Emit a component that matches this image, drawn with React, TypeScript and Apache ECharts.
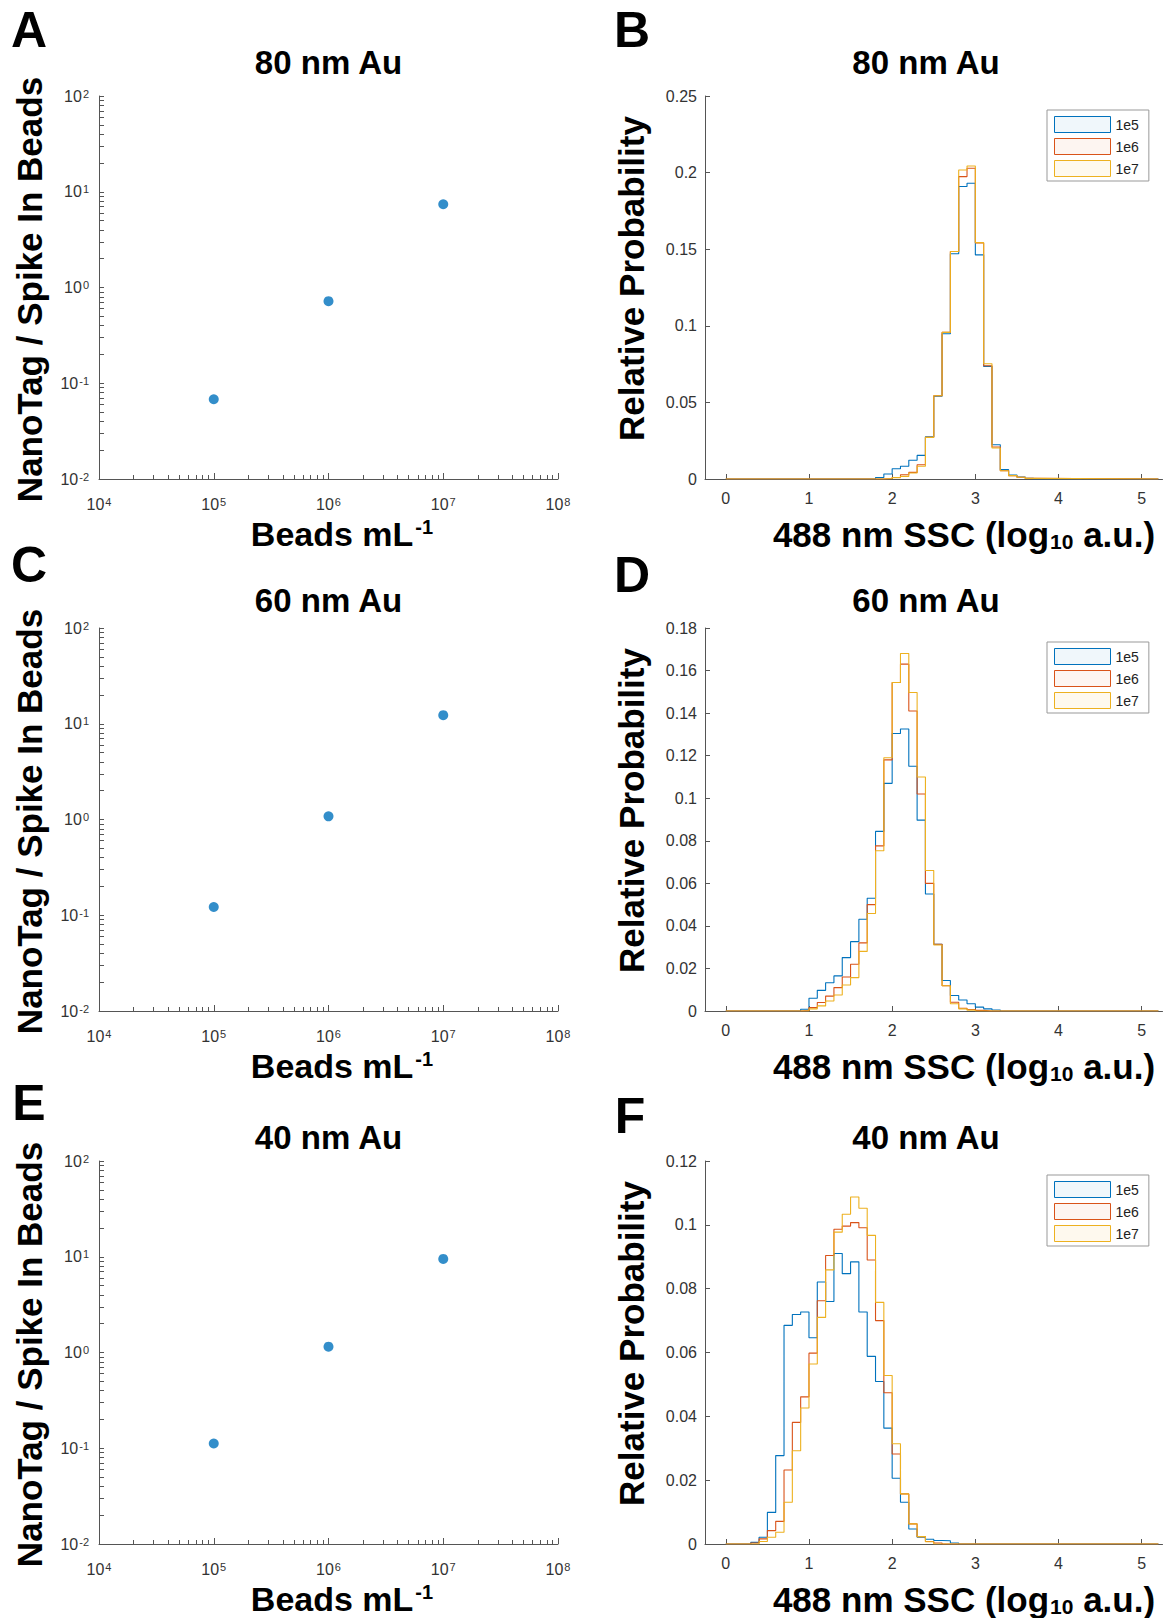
import React, { useEffect, useRef } from 'react';
import * as echarts from 'echarts';

const FONT = '"Liberation Sans", Arial, Helvetica, sans-serif';

// ---------- Scatter panels (A, C, E) ----------
const beadConc = [1e5, 1e6, 1e7];
const ratio80 = [0.068, 0.72, 7.4];
const ratio60 = [0.122, 1.08, 12.3];
const ratio40 = [0.112, 1.15, 9.5];
const xExponents = [4, 5, 6, 7, 8];
const yExponents = [-2, -1, 0, 1, 2];

// ---------- Histogram panels (B, D, F) ----------
const seriesNames = ['1e5', '1e6', '1e7'];
const binWidth = 0.1;
const histRange = [0, 5.2];
const xTickValues = [0, 1, 2, 3, 4, 5];

// 80 nm Au: bins starting at 1.8
const h80Start = 1.8;
const h80_1e5 = [0.001, 0.0033, 0.0067, 0.0083, 0.0122, 0.0154, 0.0275, 0.054, 0.0948, 0.147, 0.1909, 0.193, 0.1463, 0.0735, 0.0224, 0.0061, 0.0026, 0.0013, 0.0005];
const h80_1e6 = [0, 0.0003, 0.001, 0.0028, 0.0043, 0.0093, 0.0272, 0.0543, 0.0957, 0.1485, 0.1974, 0.2028, 0.154, 0.0739, 0.0209, 0.0054, 0.0022, 0.0011, 0.0004];
const h80_1e7 = [0, 0.0003, 0.0009, 0.0017, 0.0039, 0.0083, 0.0272, 0.0543, 0.0957, 0.1485, 0.2017, 0.2043, 0.1543, 0.0752, 0.0202, 0.0054, 0.0022, 0.0011, 0.0004];

// 60 nm Au: bins starting at 0.9
const h60Start = 0.9;
const h60_1e5 = [0.0008, 0.006, 0.0097, 0.0133, 0.0165, 0.0251, 0.0326, 0.0431, 0.053, 0.0844, 0.107, 0.1304, 0.1325, 0.115, 0.0897, 0.055, 0.0314, 0.0143, 0.0073, 0.0052, 0.0034, 0.0018, 0.001, 0.0005];
const h60_1e6 = [0.0002, 0.0016, 0.004, 0.007, 0.011, 0.016, 0.022, 0.032, 0.05, 0.0776, 0.118, 0.1544, 0.163, 0.141, 0.102, 0.06, 0.0314, 0.0119, 0.0041, 0.0013, 0.0007, 0.0003, 0, 0];
const h60_1e7 = [0, 0.001, 0.0024, 0.0047, 0.0075, 0.0122, 0.0157, 0.028, 0.0458, 0.0753, 0.119, 0.1544, 0.168, 0.1497, 0.11, 0.066, 0.031, 0.0119, 0.0034, 0.001, 0.0004, 0, 0, 0];

// 40 nm Au: bins starting at 0.3
const h40Start = 0.3;
const h40_1e5 = [0.0005, 0.0021, 0.0099, 0.0277, 0.0685, 0.0719, 0.0727, 0.0646, 0.0821, 0.076, 0.091, 0.0847, 0.0884, 0.0727, 0.0588, 0.0509, 0.0363, 0.0206, 0.0131, 0.0047, 0.0021, 0.0015, 0.0011, 0.001, 0.0003];
const h40_1e6 = [0.0003, 0.0016, 0.0042, 0.0071, 0.0232, 0.0381, 0.0461, 0.0598, 0.0762, 0.0904, 0.0986, 0.0996, 0.1007, 0.0991, 0.089, 0.07, 0.0474, 0.0282, 0.0157, 0.0063, 0.0023, 0.0008, 0.0003, 0, 0];
const h40_1e7 = [0, 0.0008, 0.0021, 0.0037, 0.0131, 0.0292, 0.0426, 0.0564, 0.071, 0.0859, 0.0977, 0.1033, 0.1087, 0.1052, 0.0967, 0.0757, 0.0528, 0.0314, 0.0157, 0.0063, 0.0023, 0.0007, 0, 0, 0];

const COLORS = ['#0072BD', '#D95319', '#EDB120'];
const LEGEND_FILLS = ['rgba(0,114,189,0.06)', 'rgba(217,83,25,0.06)', 'rgba(237,177,32,0.08)'];
const AXIS_COLOR = '#555555';
const LABEL_COLOR = '#333333';

// ---------- layout ----------
const ROW_TOPS = [96, 628, 1161];
const PLOT_H = 383;
const LEFT_X = 99;
const LEFT_W = 459;
const RIGHT_X = 705;
const RIGHT_W = 457.5;

function stairs(start: number, values: number[]) {
  const pts: number[][] = [[histRange[0], 0]];
  values.forEach((v, i) => pts.push([+(start + i * binWidth).toFixed(2), v]));
  pts.push([+(start + values.length * binWidth).toFixed(2), 0]);
  pts.push([histRange[1], 0]);
  return pts;
}

// tick positions (in log10 units) for a log-scaled axis
const logTicks = (lo: number, hi: number, withMajor: boolean) => {
  const out: number[] = [];
  for (let e = lo; e < hi; e++) {
    if (withMajor) out.push(e);
    for (let k = 2; k <= 9; k++) out.push(e + Math.log10(k));
  }
  if (withMajor) out.push(hi);
  return out;
};

const tickRich = {
  b: { fontSize: 16, fontFamily: FONT, color: LABEL_COLOR, lineHeight: 16, verticalAlign: 'bottom' },
  s: { fontSize: 11, fontFamily: FONT, color: LABEL_COLOR, lineHeight: 11, verticalAlign: 'top', padding: [0, 0, 9, 1] },
};

const axisLine = { show: true, onZero: false, lineStyle: { color: AXIS_COLOR, width: 1 } };

export default function App() {
  const ref = useRef<HTMLDivElement>(null);

  useEffect(() => {
    if (!ref.current) return;
    const chart = echarts.init(ref.current, undefined, { renderer: 'svg' });

    const scatterSets = [ratio80, ratio60, ratio40];
    const histSets = [
      { start: h80Start, vals: [h80_1e5, h80_1e6, h80_1e7], max: 0.25, interval: 0.05 },
      { start: h60Start, vals: [h60_1e5, h60_1e6, h60_1e7], max: 0.18, interval: 0.02 },
      { start: h40Start, vals: [h40_1e5, h40_1e6, h40_1e7], max: 0.12, interval: 0.02 },
    ];
    const titles = ['80 nm Au', '60 nm Au', '40 nm Au'];

    const grid: any[] = [];
    const xAxis: any[] = [];
    const yAxis: any[] = [];
    const series: any[] = [];

    ROW_TOPS.forEach((top) => {
      grid.push({ left: LEFT_X, top, width: LEFT_W, height: PLOT_H });
      grid.push({ left: RIGHT_X, top, width: RIGHT_W, height: PLOT_H });
    });

    const yLo = yExponents[0];
    const yHi = yExponents[yExponents.length - 1];

    ROW_TOPS.forEach((_, r) => {
      const gS = 2 * r;
      const gH = 2 * r + 1;
      xAxis[gS] = {
        type: 'value', gridIndex: gS, position: 'bottom', min: xExponents[0], max: xExponents[xExponents.length - 1], interval: 1,
        axisLine, splitLine: { show: false },
        axisTick: { show: true, inside: true, length: 6, lineStyle: { color: AXIS_COLOR } },
        axisLabel: { margin: 17, formatter: (v: number) => `{b|10}{s|${Math.round(v)}}`, rich: tickRich },
      };
      yAxis[gS] = {
        type: 'value', gridIndex: gS, position: 'left', min: yLo, max: yHi, interval: 1,
        axisLine, splitLine: { show: false },
        axisTick: { show: true, inside: true, length: 5, customValues: logTicks(yLo, yHi, true), lineStyle: { color: AXIS_COLOR } },
        axisLabel: { margin: 10, formatter: (v: number) => `{b|10}{s|${Math.round(v)}}`, rich: tickRich },
      };
      const hs = histSets[r];
      xAxis[gH] = {
        type: 'value', gridIndex: gH, position: 'bottom', min: -0.25, max: 5.25,
        axisLine, splitLine: { show: false },
        axisTick: { show: true, inside: true, length: 5, customValues: xTickValues, lineStyle: { color: AXIS_COLOR } },
        axisLabel: { customValues: xTickValues, margin: 11, fontSize: 16, fontFamily: FONT, color: LABEL_COLOR },
      };
      yAxis[gH] = {
        type: 'value', gridIndex: gH, position: 'left', min: 0, max: hs.max, interval: hs.interval,
        axisLine, splitLine: { show: false },
        axisTick: { show: true, inside: true, length: 5, lineStyle: { color: AXIS_COLOR } },
        axisLabel: {
          margin: 8, fontSize: 16, fontFamily: FONT, color: LABEL_COLOR,
          formatter: (v: number) => String(parseFloat(v.toFixed(3))),
        },
      };
    });

    // minor tick overlay x axes for the log-scaled scatter panels
    ROW_TOPS.forEach((_, r) => {
      const gS = 2 * r;
      xAxis.push({
        type: 'value', gridIndex: gS, position: 'bottom', min: 4, max: 8,
        axisLine: { show: false, onZero: false }, splitLine: { show: false }, axisLabel: { show: false },
        axisTick: { show: true, inside: true, length: 4, customValues: logTicks(4, 8, false), lineStyle: { color: AXIS_COLOR } },
      });
    });

    ROW_TOPS.forEach((_, r) => {
      const gS = 2 * r;
      const gH = 2 * r + 1;
      series.push({
        type: 'scatter', xAxisIndex: gS, yAxisIndex: gS, symbolSize: 10,
        itemStyle: { color: '#0072BD' },
        data: beadConc.map((x, i) => [Math.log10(x), Math.log10(scatterSets[r][i])]),
      });
      const hs = histSets[r];
      hs.vals.forEach((vals, k) => {
        series.push({
          type: 'line', name: seriesNames[k], xAxisIndex: gH, yAxisIndex: gH,
          step: 'end', symbol: 'none', showSymbol: false,
          lineStyle: { color: COLORS[k], width: 1.1 },
          itemStyle: { color: COLORS[k] },
          data: stairs(hs.start, vals),
        });
      });
    });

    const legend = ROW_TOPS.map((top) => ({
      orient: 'vertical', left: 1047, top: top + 14,
      data: seriesNames.map((n, i) => ({
        name: n, icon: 'rect',
        itemStyle: { color: LEGEND_FILLS[i], borderColor: COLORS[i], borderWidth: 1 },
      })),
      itemWidth: 56, itemHeight: 16, itemGap: 5, padding: [6, 10, 4, 7],
      borderColor: '#999', borderWidth: 1, backgroundColor: '#fff',
      selectedMode: false,
      textStyle: { fontSize: 14, fontFamily: FONT, color: '#222' },
    }));

    const graphic: any[] = [];
    const letters = [['A', 29, 30], ['B', 632, 30], ['C', 29, 565], ['D', 632, 575], ['E', 29, 1103], ['F', 630, 1116]];
    letters.forEach(([t, x, y]) => {
      graphic.push({ type: 'text', x, y, style: { text: t, fontSize: 50, fontWeight: 'bold', fontFamily: FONT, fill: '#000', textAlign: 'center', textVerticalAlign: 'middle' } });
    });
    const titleYs = [62, 600, 1137];
    titles.forEach((t, r) => {
      graphic.push({ type: 'text', x: 328.5, y: titleYs[r], style: { text: t, fontSize: 33, fontWeight: 'bold', fontFamily: FONT, fill: '#000', textAlign: 'center', textVerticalAlign: 'middle' } });
      graphic.push({ type: 'text', x: 926, y: titleYs[r], style: { text: t, fontSize: 33, fontWeight: 'bold', fontFamily: FONT, fill: '#000', textAlign: 'center', textVerticalAlign: 'middle' } });
    });
    ROW_TOPS.forEach((top) => {
      const cy = top + PLOT_H / 2;
      graphic.push({ type: 'text', x: 29, y: cy + 2, rotation: Math.PI / 2, style: { text: 'NanoTag / Spike In Beads', fontSize: 35, fontWeight: 'bold', fontFamily: FONT, fill: '#000', textAlign: 'center', textVerticalAlign: 'middle' } });
      graphic.push({ type: 'text', x: 631, y: cy - 9, rotation: Math.PI / 2, style: { text: 'Relative Probability', fontSize: 35, fontWeight: 'bold', fontFamily: FONT, fill: '#000', textAlign: 'center', textVerticalAlign: 'middle' } });
      const by = top + PLOT_H + 55;
      graphic.push({
        type: 'text', x: 342, y: by,
        style: {
          text: '{t|Beads mL}{sup|-1}', textAlign: 'center', textVerticalAlign: 'middle',
          rich: {
            t: { fontSize: 34, fontWeight: 'bold', fontFamily: FONT, fill: '#000', color: '#000', lineHeight: 34, verticalAlign: 'bottom' },
            sup: { fontSize: 20, fontWeight: 'bold', fontFamily: FONT, fill: '#000', color: '#000', lineHeight: 20, verticalAlign: 'top', padding: [0, 0, 16, 2] },
          },
        },
      });
      graphic.push({
        type: 'text', x: 964, y: by,
        style: {
          text: '{t|488 nm SSC (log}{sub|10}{t| a.u.)}', textAlign: 'center', textVerticalAlign: 'middle',
          rich: {
            t: { fontSize: 35, fontWeight: 'bold', fontFamily: FONT, fill: '#000', color: '#000', lineHeight: 35, verticalAlign: 'top' },
            sub: { fontSize: 21, fontWeight: 'bold', fontFamily: FONT, fill: '#000', color: '#000', lineHeight: 21, verticalAlign: 'bottom', padding: [19, 0, 0, 1] },
          },
        },
      });
    });

    chart.setOption({
      animation: false,
      backgroundColor: '#ffffff',
      textStyle: { fontFamily: FONT },
      grid, xAxis, yAxis, series, legend, graphic,
    });

    return () => chart.dispose();
  }, []);

  return <div ref={ref} style={{ position: 'absolute', left: 0, top: 0, width: 1164, height: 1618 }} />;
}
